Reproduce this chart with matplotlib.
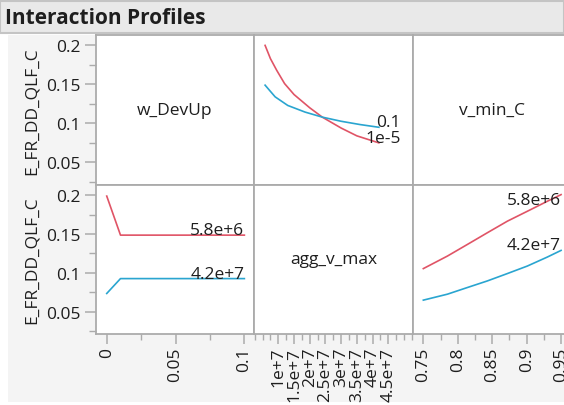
import numpy as np
import matplotlib.pyplot as plt
from matplotlib.patches import Rectangle
from matplotlib.ticker import MultipleLocator

plt.rcParams['font.family'] = ['Open Sans', 'DejaVu Sans']

# ---- data ----
response = "E_FR_DD_QLF_C"
factors = ["w_DevUp", "agg_v_max", "v_min_C"]

# row 1, col 2 : response vs agg_v_max, one line per w_DevUp level
agg_x_red = [5.8e6, 7.5e6, 9.5e6, 1.2e7, 1.5e7, 2.0e7, 2.4e7, 3.0e7, 3.5e7, 4.2e7]
agg_y_red = [0.200, 0.183, 0.168, 0.151, 0.137, 0.120, 0.108, 0.094, 0.084, 0.075]
agg_x_blue = [5.8e6, 7.5e6, 9.0e6, 1.3e7, 1.85e7, 2.4e7, 3.0e7, 3.6e7, 4.2e7]
agg_y_blue = [0.149, 0.141, 0.134, 0.123, 0.1145, 0.108, 0.1027, 0.0985, 0.095]
w_levels = ["1e-5", "0.1"]

# row 2, col 1 : response vs w_DevUp, one line per agg_v_max level
w_x = [0.0, 0.01, 0.1]
w_y_red = [0.199, 0.1486, 0.1486]
w_y_blue = [0.0733, 0.0925, 0.0925]
agg_levels = ["5.8e+6", "4.2e+7"]

# row 2, col 3 : response vs v_min_C, one line per agg_v_max level
v_x = [0.75, 0.785, 0.814, 0.843, 0.872, 0.901, 0.930, 0.95]
v_y_red = [0.1054, 0.1216, 0.1366, 0.1517, 0.1666, 0.1794, 0.1923, 0.2009]
v_y_blue = [0.0647, 0.0724, 0.081, 0.0895, 0.099, 0.1087, 0.1203, 0.1289]

y_ticks = [0.05, 0.1, 0.15, 0.2]
y_labels = ["0.05", "0.1", "0.15", "0.2"]
w_ticks = [0, 0.05, 0.1]
w_labels = ["0", "0.05", "0.1"]
agg_ticks = [1e7, 1.5e7, 2e7, 2.5e7, 3e7, 3.5e7, 4e7, 4.5e7]
agg_labels = ["1e+7", "1.5e+7", "2e+7", "2.5e+7", "3e+7", "3.5e+7", "4e+7", "4.5e+7"]
v_ticks = [0.75, 0.8, 0.85, 0.9, 0.95]
v_labels = ["0.75", "0.8", "0.85", "0.9", "0.95"]

RED = '#e05466'
BLUE = '#2aa5d0'
EDGE = '#ababab'
TXT = '#1e1e1e'
FS = 12.5

W, H = 564, 406
fig = plt.figure(figsize=(W / 100, H / 100), dpi=100)
fig.patch.set_facecolor('white')


def box(x0, y0, x1, y1):
    return [x0 / W, 1 - y1 / H, (x1 - x0) / W, (y1 - y0) / H]


# background and title bar
fig.add_artist(Rectangle((8 / W, 1 - 403 / H), 1, (403 - 36) / H,
                         transform=fig.transFigure, fc='#f4f4f4', ec='none', zorder=0))
fig.add_artist(Rectangle((0, 1 - 34 / H), 1, 32 / H, transform=fig.transFigure,
                         fc='#e9e9e9', ec='#c4c4c4', lw=1.5, zorder=0))
fig.text(5 / W, 1 - 18 / H, "Interaction Profiles", fontsize=15, fontweight='bold',
         color=TXT, ha='left', va='center')

cols = [(96, 254), (254, 413), (413, 571)]
rows = [(36, 186), (186, 335)]
xlims = [(-0.0078, 0.107), (2.27e6, 5.286e7), (0.735, 0.9644)]
ylim = (0.021, 0.2133)
xticks = [(w_ticks, w_labels, 0.025), (agg_ticks, agg_labels, 2.5e6), (v_ticks, v_labels, 0.025)]

axes = {}
for r, (y0, y1) in enumerate(rows):
    for c, (x0, x1) in enumerate(cols):
        ax = fig.add_axes(box(x0, y0, x1, y1))
        ax.set_facecolor('white')
        for s in ax.spines.values():
            s.set_color(EDGE)
            s.set_linewidth(1.3)
        ax.set_xlim(*xlims[c])
        ax.set_ylim(*ylim)
        ax.tick_params(colors=EDGE, labelcolor=TXT, labelsize=FS)
        if c == 0:
            ax.set_yticks(y_ticks, y_labels)
            ax.yaxis.set_minor_locator(MultipleLocator(0.025))
            ax.tick_params(axis='y', which='major', length=8, width=1.1, pad=3)
            ax.tick_params(axis='y', which='minor', length=5, width=1.0, colors=EDGE)
            ax.set_ylabel(response, fontsize=FS, color=TXT, labelpad=5)
        else:
            ax.set_yticks([])
        if r == 1:
            t, lab, mn = xticks[c]
            ax.set_xticks(t, lab, rotation=90)
            ax.xaxis.set_minor_locator(MultipleLocator(mn))
            ax.tick_params(axis='x', which='major', length=7, width=1.1, pad=2)
            ax.tick_params(axis='x', which='minor', length=4, width=1.0, colors=EDGE)
        else:
            ax.set_xticks([])
        axes[(r, c)] = ax

# diagonal labels
for (r, c), name in [((0, 0), factors[0]), ((1, 1), factors[1]), ((0, 2), factors[2])]:
    axes[(r, c)].text(0.5, 0.5, name, transform=axes[(r, c)].transAxes,
                      ha='center', va='center', fontsize=FS, color=TXT)


def end_label(ax, x, y, text):
    ax.text(x, y, text, ha='right', va='bottom', fontsize=FS, color=TXT)


lw = 1.2
ax = axes[(0, 1)]
ax.plot(agg_x_red, agg_y_red, color=RED, lw=lw)
ax.plot(agg_x_blue, agg_y_blue, color=BLUE, lw=lw)
end_label(ax, 4.9e7, agg_y_blue[-1] - 0.004, w_levels[1])
end_label(ax, 4.9e7, agg_y_red[-1] - 0.004, w_levels[0])

ax = axes[(1, 0)]
ax.plot(w_x, w_y_red, color=RED, lw=lw)
ax.plot(w_x, w_y_blue, color=BLUE, lw=lw)
end_label(ax, w_x[-1], w_y_red[-1] - 0.004, agg_levels[0])
end_label(ax, w_x[-1], w_y_blue[-1] - 0.004, agg_levels[1])

ax = axes[(1, 2)]
ax.plot(v_x, v_y_red, color=RED, lw=lw)
ax.plot(v_x, v_y_blue, color=BLUE, lw=lw)
end_label(ax, v_x[-1], min(v_y_red[-1], 0.183), agg_levels[0])
end_label(ax, v_x[-1], v_y_blue[-1] - 0.004, agg_levels[1])

fig.savefig('out.png', dpi=100)
